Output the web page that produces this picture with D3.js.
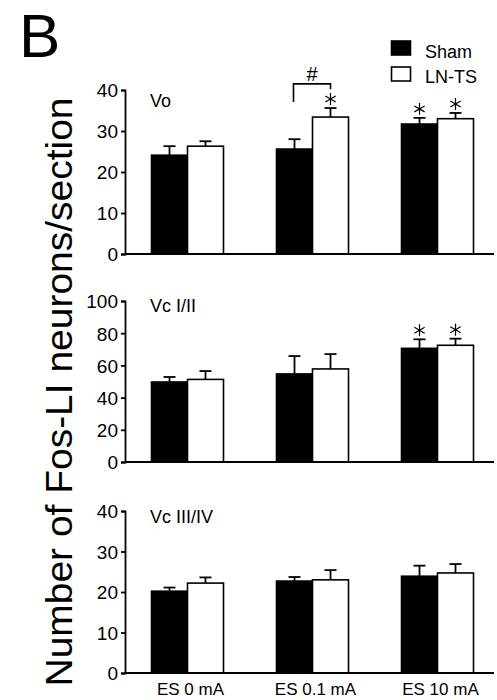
<!DOCTYPE html>
<html>
<head>
<meta charset="utf-8">
<script src="https://cdn.jsdelivr.net/npm/d3@7"></script>
<style>
  html, body { margin: 0; padding: 0; background: #fff; }
  svg { display: block; font-family: "Liberation Sans", Arial, Helvetica, sans-serif; }
</style>
</head>
<body>
<svg id="chart" width="497" height="700"></svg>
<script>
// ---------- data ----------
const categories = ["ES 0 mA", "ES 0.1 mA", "ES 10 mA"];
const series = ["Sham", "LN-TS"];
const panelNames = ["Vo", "Vc I/II", "Vc III/IV"];

const voSham = [24.1, 25.6, 31.7];
const voShamErr = [2.2, 2.4, 1.5];
const voLnts = [26.3, 33.4, 33.0];
const voLntsErr = [1.2, 2.2, 1.4];

const vc12Sham = [49.7, 54.7, 70.6];
const vc12ShamErr = [3.1, 11.1, 5.6];
const vc12Lnts = [51.3, 57.8, 72.5];
const vc12LntsErr = [5.2, 9.2, 4.1];

const vc34Sham = [20.2, 22.7, 23.9];
const vc34ShamErr = [0.9, 1.0, 2.6];
const vc34Lnts = [22.2, 23.0, 24.7];
const vc34LntsErr = [1.4, 2.4, 2.2];

const voTicks = [0, 10, 20, 30, 40];
const vc12Ticks = [0, 20, 40, 60, 80, 100];
const vc34Ticks = [0, 10, 20, 30, 40];

// significance marks: [category, series]
const voStars = [["ES 0.1 mA", "LN-TS"], ["ES 10 mA", "Sham"], ["ES 10 mA", "LN-TS"]];
const vc12Stars = [["ES 10 mA", "Sham"], ["ES 10 mA", "LN-TS"]];
const vc34Stars = [];
// bracket "#" in Vo panel: category, top value, left leg end, right leg end
const voBracket = { category: "ES 0.1 mA", top: 41.5, leftEnd: 37.1, rightEnd: 40.2 };

// ---------- layout ----------
const svg = d3.select("#chart");
const axisX = 125, axisRight = 494;

const x0 = d3.scaleBand().domain(categories).range([axisX, 500])
  .paddingInner(0.424).paddingOuter(0.212);
const x1 = d3.scaleBand().domain(series).range([0, x0.bandwidth()]);
const fills = { "Sham": "#000", "LN-TS": "#fff" };

const panels = [
  { name: panelNames[0], domain: [0, 40], range: [254, 90], ticks: voTicks,
    vals: { "Sham": voSham, "LN-TS": voLnts }, errs: { "Sham": voShamErr, "LN-TS": voLntsErr },
    stars: voStars, bracket: voBracket, labelY: 107 },
  { name: panelNames[1], domain: [0, 100], range: [462, 301], ticks: vc12Ticks,
    vals: { "Sham": vc12Sham, "LN-TS": vc12Lnts }, errs: { "Sham": vc12ShamErr, "LN-TS": vc12LntsErr },
    stars: vc12Stars, bracket: null, labelY: 312 },
  { name: panelNames[2], domain: [0, 40], range: [673, 511], ticks: vc34Ticks,
    vals: { "Sham": vc34Sham, "LN-TS": vc34Lnts }, errs: { "Sham": vc34ShamErr, "LN-TS": vc34LntsErr },
    stars: vc34Stars, bracket: null, labelY: 523 }
];

const asterisk = d3.symbol().type(d3.symbolAsterisk).size(100);

panels.forEach((p, pi) => {
  const y = d3.scaleLinear().domain(p.domain).range(p.range);
  const g = svg.append("g");

  const rows = [];
  categories.forEach((c, i) => series.forEach(s => {
    rows.push({ c, s, v: p.vals[s][i], e: p.errs[s][i] });
  }));

  // error bars
  const eb = g.append("g").selectAll("g").data(rows).join("g")
    .attr("transform", d => `translate(${x0(d.c) + x1(d.s) + x1.bandwidth() / 2},0)`);
  eb.append("line").attr("x1", 0).attr("x2", 0)
    .attr("y1", d => y(d.v)).attr("y2", d => y(d.v + d.e))
    .attr("stroke", "#000").attr("stroke-width", 1.8);
  eb.append("line").attr("x1", -6).attr("x2", 6)
    .attr("y1", d => y(d.v + d.e)).attr("y2", d => y(d.v + d.e))
    .attr("stroke", "#000").attr("stroke-width", 1.8);

  // bars
  g.append("g").selectAll("rect").data(rows).join("rect")
    .attr("x", d => x0(d.c) + x1(d.s))
    .attr("y", d => y(d.v))
    .attr("width", x1.bandwidth())
    .attr("height", d => y(0) - y(d.v))
    .attr("fill", d => fills[d.s])
    .attr("stroke", "#000").attr("stroke-width", 1.6);

  // y axis
  const ax = g.append("g").attr("transform", `translate(${axisX},0)`)
    .call(d3.axisLeft(y).tickValues(p.ticks).tickSize(4).tickSizeOuter(4).tickPadding(3));
  ax.selectAll("path,line").attr("stroke", "#000").attr("stroke-width", 1.8);
  ax.selectAll("text").attr("font-size", 19).attr("font-family", "Liberation Sans, Arial, sans-serif")
    .attr("fill", "#000").attr("dy", "0.36em");

  // x baseline
  g.append("line").attr("x1", axisX).attr("x2", axisRight)
    .attr("y1", y(0)).attr("y2", y(0))
    .attr("stroke", "#000").attr("stroke-width", 1.8);

  // panel label
  g.append("text").attr("x", 150).attr("y", p.labelY)
    .attr("font-size", 18).attr("fill", "#000").text(p.name);

  // stars
  p.stars.forEach(([c, s]) => {
    const i = categories.indexOf(c);
    const top = p.vals[s][i] + p.errs[s][i];
    g.append("path").attr("d", asterisk)
      .attr("transform", `translate(${x0(c) + x1(s) + x1.bandwidth() / 2},${y(top) - 9})`)
      .attr("fill", "none").attr("stroke", "#000").attr("stroke-width", 1.2);
  });

  // bracket
  if (p.bracket) {
    const b = p.bracket;
    const xl = x0(b.category) + x1("Sham") + x1.bandwidth() / 2 - 1;
    const xr = x0(b.category) + x1("LN-TS") + x1.bandwidth() / 2;
    g.append("path")
      .attr("d", `M${xl},${y(b.leftEnd)}V${y(b.top)}H${xr}V${y(b.rightEnd)}`)
      .attr("fill", "none").attr("stroke", "#000").attr("stroke-width", 1.6);
    g.append("text").attr("x", (xl + xr) / 2).attr("y", y(b.top) - 3)
      .attr("text-anchor", "middle").attr("font-size", 20).attr("fill", "#000").text("#");
  }

  // x labels on bottom panel only
  if (pi === panels.length - 1) {
    g.append("g").selectAll("text").data(categories).join("text")
      .attr("x", d => x0(d) + x0.bandwidth() / 2 + 3)
      .attr("y", 695)
      .attr("text-anchor", "middle").attr("font-size", 17).attr("fill", "#000")
      .text(d => d);
  }
});

// y title
svg.append("text")
  .attr("transform", "translate(72,392) rotate(-90)")
  .attr("text-anchor", "middle")
  .attr("font-size", 36)
  .attr("textLength", 589).attr("lengthAdjust", "spacingAndGlyphs")
  .attr("fill", "#000")
  .text("Number of Fos-LI neurons/section");

// panel letter
svg.append("text").attr("x", 19).attr("y", 57)
  .attr("font-size", 62).attr("fill", "#000").text("B");

// legend
const legend = svg.append("g");
series.forEach((s, i) => {
  legend.append("rect").attr("x", 391.5).attr("y", 41 + i * 26)
    .attr("width", 19).attr("height", 14)
    .attr("fill", fills[s]).attr("stroke", "#000").attr("stroke-width", 1.6);
  legend.append("text").attr("x", 425).attr("y", 58 + i * 25)
    .attr("font-size", 18).attr("fill", "#000").text(s);
});
</script>
</body>
</html>
